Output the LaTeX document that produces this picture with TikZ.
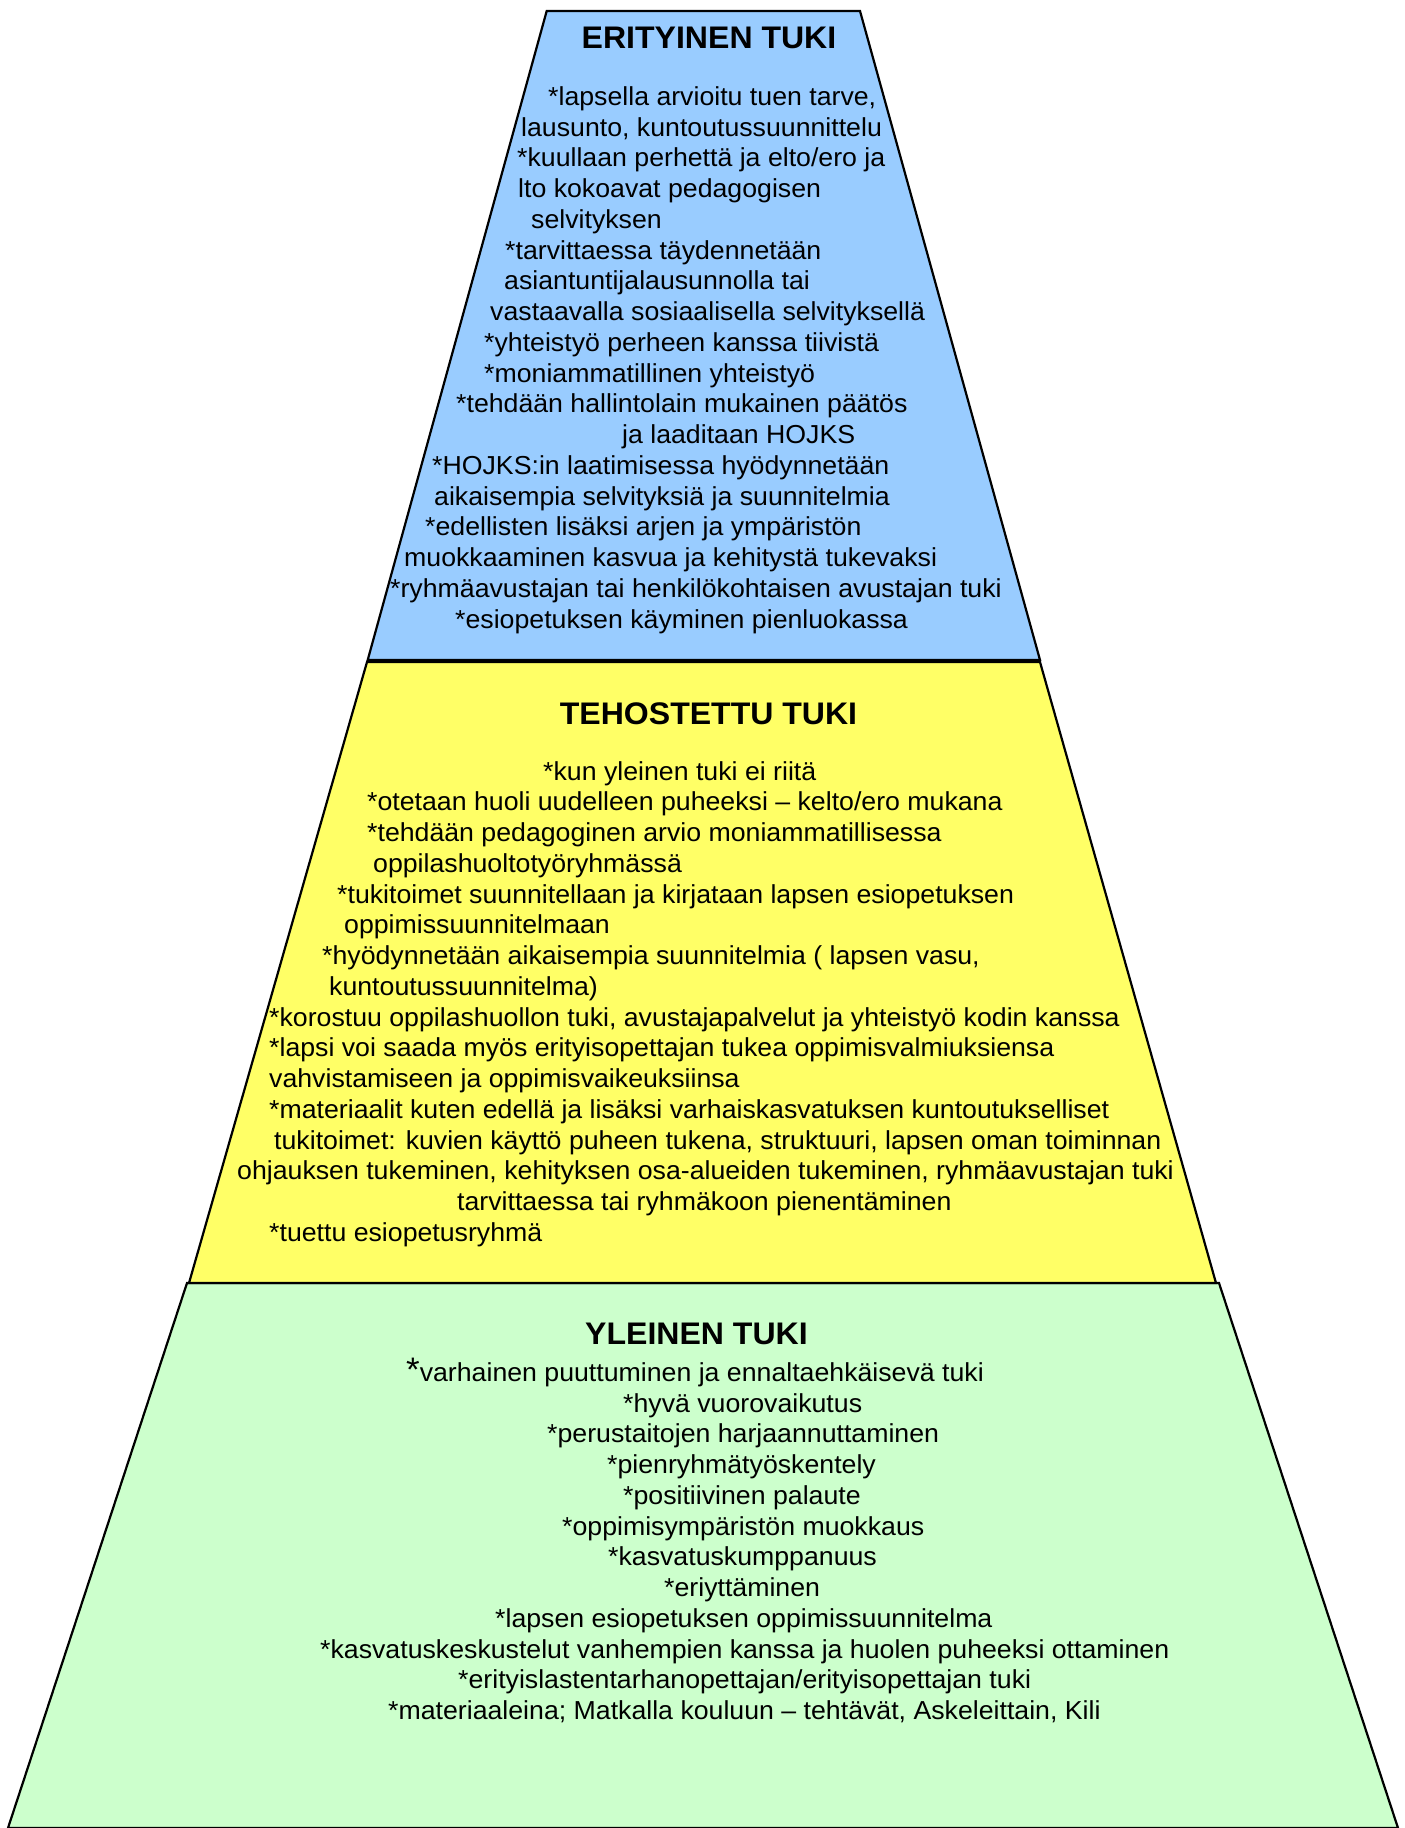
\documentclass[tikz,border=0pt]{standalone}
\usepackage{fontspec}
\setmainfont[FakeStretch=1.027]{Liberation Sans}
\definecolor{lvlblue}{HTML}{99CCFF}
\definecolor{lvlyellow}{HTML}{FFFF66}
\definecolor{lvlgreen}{HTML}{CCFFCC}
\tikzset{
  level/.style={draw=black, line width=2.2pt, line join=miter},
  ttl/.style={anchor=base, inner sep=0pt, font=\fontsize{31.2}{36}\selectfont\bfseries},
  txt/.style={anchor=base west, inner sep=0pt, font=\fontsize{26}{30}\selectfont}
}
\begin{document}
\begin{tikzpicture}[x=1pt,y=-1pt]
\useasboundingbox (0,0) rectangle (1405,1828);
\def\ls{30.75}
% levels
\path[level, fill=lvlgreen] (187,1283) -- (1219,1283) -- (1398,1828) -- (8,1828) -- cycle;
\path[level, fill=lvlyellow] (367,662) -- (1040,662) -- (1216,1283) -- (189,1283) -- cycle;
\path[level, fill=lvlblue] (546.7,11) -- (860,11) -- (1040,660) -- (367.7,660) -- cycle;

% ERITYINEN TUKI
\def\by{105.3}
\node[ttl] (t1) at (709,48.3) {ERITYINEN TUKI};
\node[txt] (b1) at (548,{\by+0*\ls}) {*lapsella arvioitu tuen tarve,};
\node[txt] (b2) at (521,{\by+1*\ls}) {lausunto, kuntoutussuunnittelu};
\node[txt] (b3) at (517,{\by+2*\ls}) {*kuullaan perhettä ja elto/ero ja};
\node[txt] (b4) at (518,{\by+3*\ls}) {lto kokoavat pedagogisen};
\node[txt] (b5) at (531,{\by+4*\ls}) {selvityksen};
\node[txt] (b6) at (505,{\by+5*\ls}) {*tarvittaessa täydennetään};
\node[txt] (b7) at (504,{\by+6*\ls}) {asiantuntijalausunnolla tai};
\node[txt] (b8) at (490,{\by+7*\ls}) {vastaavalla sosiaalisella selvityksellä};
\node[txt] (b9) at (484,{\by+8*\ls}) {*yhteistyö perheen kanssa tiivistä};
\node[txt] (b10) at (484,{\by+9*\ls}) {*moniammatillinen yhteistyö};
\node[txt] (b11) at (456,{\by+10*\ls}) {*tehdään hallintolain mukainen päätös};
\node[txt] (b12) at (622,{\by+11*\ls}) {ja laaditaan HOJKS};
\node[txt] (b13) at (432,{\by+12*\ls}) {*HOJKS:in laatimisessa hyödynnetään};
\node[txt] (b14) at (434,{\by+13*\ls}) {aikaisempia selvityksiä ja suunnitelmia};
\node[txt] (b15) at (425,{\by+14*\ls}) {*edellisten lisäksi arjen ja ympäristön};
\node[txt] (b16) at (404,{\by+15*\ls}) {muokkaaminen kasvua ja kehitystä tukevaksi};
\node[txt] (b17) at (390,{\by+16*\ls}) {*ryhmäavustajan tai henkilökohtaisen avustajan tuki};
\node[txt] (b18) at (455,{\by+17*\ls}) {*esiopetuksen käyminen pienluokassa};

% TEHOSTETTU TUKI
\def\yy{780}
\node[ttl] (t2) at (708.5,724) {TEHOSTETTU TUKI};
\node[txt] (y1) at (543,{\yy+0*\ls}) {*kun yleinen tuki ei riitä};
\node[txt] (y2) at (367,{\yy+1*\ls}) {*otetaan huoli uudelleen puheeksi – kelto/ero mukana};
\node[txt] (y3) at (367,{\yy+2*\ls}) {*tehdään pedagoginen arvio moniammatillisessa};
\node[txt] (y4) at (373,{\yy+3*\ls}) {oppilashuoltotyöryhmässä};
\node[txt] (y5) at (337,{\yy+4*\ls}) {*tukitoimet suunnitellaan ja kirjataan lapsen esiopetuksen};
\node[txt] (y6) at (344,{\yy+5*\ls}) {oppimissuunnitelmaan};
\node[txt] (y7) at (322,{\yy+6*\ls}) {*hyödynnetään aikaisempia suunnitelmia ( lapsen vasu,};
\node[txt] (y8) at (329,{\yy+7*\ls}) {kuntoutussuunnitelma)};
\node[txt] (y9) at (269,{\yy+8*\ls}) {*korostuu oppilashuollon tuki, avustajapalvelut ja yhteistyö kodin kanssa};
\node[txt] (y10) at (269,{\yy+9*\ls}) {*lapsi voi saada myös erityisopettajan tukea oppimisvalmiuksiensa};
\node[txt] (y11) at (269,{\yy+10*\ls}) {vahvistamiseen ja oppimisvaikeuksiinsa};
\node[txt] (y12) at (269,{\yy+11*\ls}) {*materiaalit kuten edellä ja lisäksi varhaiskasvatuksen kuntoutukselliset};
\node[txt] (y13) at (274,{\yy+12*\ls}) {tukitoimet: kuvien käyttö puheen tukena, struktuuri, lapsen oman toiminnan};
\node[txt] (y14) at (237,{\yy+13*\ls}) {ohjauksen tukeminen, kehityksen osa-alueiden tukeminen, ryhmäavustajan tuki};
\node[txt] (y15) at (457,{\yy+14*\ls}) {tarvittaessa tai ryhmäkoon pienentäminen};
\node[txt] (y16) at (269,{\yy+15*\ls}) {*tuettu esiopetusryhmä};

% YLEINEN TUKI
\def\gy{1381.3}
\node[ttl] (t3) at (696.5,1344) {YLEINEN TUKI};
\node[txt] (g1) at (406,{\gy+0*\ls}) {{\fontsize{34}{34}\selectfont *}varhainen puuttuminen ja ennaltaehkäisevä tuki};
\node[txt] (g2) at (623,{\gy+1*\ls}) {*hyvä vuorovaikutus};
\node[txt] (g3) at (547,{\gy+2*\ls}) {*perustaitojen harjaannuttaminen};
\node[txt] (g4) at (607,{\gy+3*\ls}) {*pienryhmätyöskentely};
\node[txt] (g5) at (623,{\gy+4*\ls}) {*positiivinen palaute};
\node[txt] (g6) at (562,{\gy+5*\ls}) {*oppimisympäristön muokkaus};
\node[txt] (g7) at (608,{\gy+6*\ls}) {*kasvatuskumppanuus};
\node[txt] (g8) at (664,{\gy+7*\ls}) {*eriyttäminen};
\node[txt] (g9) at (495,{\gy+8*\ls}) {*lapsen esiopetuksen oppimissuunnitelma};
\node[txt] (g10) at (320,{\gy+9*\ls}) {*kasvatuskeskustelut vanhempien kanssa ja huolen puheeksi ottaminen};
\node[txt] (g11) at (458,{\gy+10*\ls}) {*erityislastentarhanopettajan/erityisopettajan tuki};
\node[txt] (g12) at (388,{\gy+11*\ls}) {*materiaaleina; Matkalla kouluun – tehtävät, Askeleittain, Kili};
\end{tikzpicture}
\end{document}
